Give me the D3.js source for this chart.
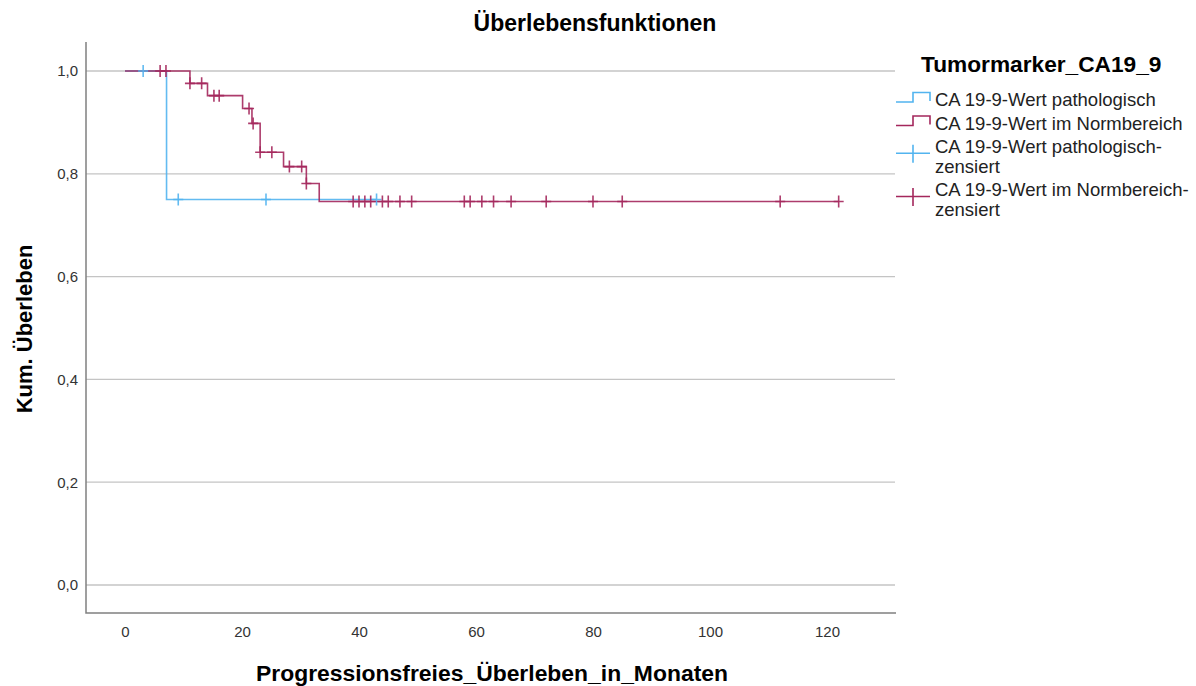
<!DOCTYPE html>
<html>
<head>
<meta charset="utf-8">
<script src="https://cdn.jsdelivr.net/npm/d3@7"></script>
<style>
  body { margin: 0; background: #fff; }
  text { font-family: "Liberation Sans", Arial, sans-serif; }
</style>
</head>
<body>
<svg id="chart" width="1196" height="686"></svg>
<script>
// ---- Texts ----
const chartTitle = "Überlebensfunktionen";
const xTitle = "Progressionsfreies_Überleben_in_Monaten";
const yTitle = "Kum. Überleben";
const legendTitle = "Tumormarker_CA19_9";
const legendLabels = [
  ["CA 19-9-Wert pathologisch"],
  ["CA 19-9-Wert im Normbereich"],
  ["CA 19-9-Wert pathologisch-", "zensiert"],
  ["CA 19-9-Wert im Normbereich-", "zensiert"]
];

// ---- Axis ticks ----
const xTicks = [0, 20, 40, 60, 80, 100, 120];
const yTicks = [0, 0.2, 0.4, 0.6, 0.8, 1.0];

// ---- Kaplan-Meier steps: CA 19-9 pathologisch ----
const pathTimes    = [0, 7.1, 43];
const pathSurvival = [1.0, 0.75, 0.75];
const pathCensored = [3.1, 9.1, 24.1, 43];

// ---- Kaplan-Meier steps: CA 19-9 im Normbereich ----
const normTimes    = [0, 11.1, 14.1, 20.1, 21.7, 23.1, 27.1, 31.0, 33.2, 122];
const normSurvival = [1.0, 0.976, 0.952, 0.927, 0.898, 0.842, 0.814, 0.781, 0.746, 0.746];
const normCensored = [6, 7, 11.1, 13.1, 15.2, 16.1, 21.2, 21.9, 23.1, 25.1, 28.1, 30.2, 31.0,
                      39, 40, 41, 42, 44, 45, 47, 49, 58, 59, 61, 63, 66, 72, 80, 85, 112, 122];

const colPath = "#52b4ef";
const colNorm = "#a4275c";

const svg = d3.select("#chart");

const x = d3.scaleLinear().domain([-6.67, 131.8]).range([86, 896]);
const y = d3.scaleLinear().domain([-0.0545, 1.0564]).range([613, 42]);

const fmt = v => d3.format(".1f")(v).replace(".", ",");

// horizontal grid lines
svg.append("g")
  .selectAll("line")
  .data(yTicks)
  .join("line")
  .attr("x1", x.range()[0]).attr("x2", x.range()[1] - 1)
  .attr("y1", d => y(d)).attr("y2", d => y(d))
  .attr("stroke", "#c4c4c4")
  .attr("stroke-width", 1.3);

// frame (left + bottom axis lines)
svg.append("path")
  .attr("d", `M${x.range()[0]},${y.range()[1]}V${y.range()[0]}H${x.range()[1]}`)
  .attr("fill", "none")
  .attr("stroke", "#808080")
  .attr("stroke-width", 1.5);

// y axis labels
const yAxis = svg.append("g")
  .attr("transform", `translate(${x.range()[0]},0)`)
  .call(d3.axisLeft(y).tickValues(yTicks).tickSize(0).tickPadding(8).tickFormat(fmt));
yAxis.select(".domain").remove();
yAxis.selectAll("text")
  .attr("font-family", "'Liberation Sans', Arial, sans-serif")
  .attr("font-size", 15).attr("fill", "#333");

// x axis labels
const xAxis = svg.append("g")
  .attr("transform", `translate(0,${y.range()[0]})`)
  .call(d3.axisBottom(x).tickValues(xTicks).tickSize(0).tickPadding(13).tickFormat(d3.format("d")));
xAxis.select(".domain").remove();
xAxis.selectAll("text")
  .attr("font-family", "'Liberation Sans', Arial, sans-serif")
  .attr("font-size", 15).attr("fill", "#333");

// step lines
const step = d3.line()
  .x(d => x(d[0]))
  .y(d => y(d[1]))
  .curve(d3.curveStepAfter);

function survivalAt(times, surv, t) {
  const i = d3.bisectRight(times, t) - 1;
  return surv[Math.max(0, i)];
}

function drawGroup(times, surv, color) {
  svg.append("path")
    .datum(d3.zip(times, surv))
    .attr("d", step)
    .attr("fill", "none")
    .attr("stroke", color)
    .attr("stroke-width", 1.6)
    .attr("stroke-opacity", 0.9);
}

function drawCensors(times, surv, cens, color) {
  svg.append("g")
    .selectAll("path")
    .data(cens)
    .join("path")
    .attr("d", t => {
      const cx = x(t), cy = y(survivalAt(times, surv, t));
      return `M${cx - 5},${cy}H${cx + 5}M${cx},${cy - 6}V${cy + 6}`;
    })
    .attr("fill", "none")
    .attr("stroke", color)
    .attr("stroke-width", 1.6)
    .attr("stroke-opacity", 0.9);
}

drawGroup(pathTimes, pathSurvival, colPath);
drawGroup(normTimes, normSurvival, colNorm);
drawCensors(pathTimes, pathSurvival, pathCensored, colPath);
drawCensors(normTimes, normSurvival, normCensored, colNorm);

// titles
svg.append("text")
  .attr("x", 595).attr("y", 31)
  .attr("text-anchor", "middle")
  .attr("font-size", 23).attr("font-weight", "bold")
  .text(chartTitle);

svg.append("text")
  .attr("transform", "translate(32,329) rotate(-90)")
  .attr("text-anchor", "middle")
  .attr("font-size", 22).attr("font-weight", "bold")
  .text(yTitle);

svg.append("text")
  .attr("x", 492).attr("y", 681)
  .attr("text-anchor", "middle")
  .attr("font-size", 22.9).attr("font-weight", "bold")
  .text(xTitle);

// legend
const lg = svg.append("g");
lg.append("text")
  .attr("x", 921).attr("y", 72)
  .attr("font-size", 22.7).attr("font-weight", "bold")
  .text(legendTitle);

const legendColors = [colPath, colNorm, colPath, colNorm];
const legendRows = [100, 123.5, 146.7, 190];
const legendLineGap = 20;

legendLabels.forEach((lines, i) => {
  const cy = legendRows[i];
  const c = legendColors[i];
  if (i < 2) {
    lg.append("path")
      .attr("d", `M896,${cy + 2}H913V${cy - 7.5}H930V${cy + 1}`)
      .attr("fill", "none").attr("stroke", c).attr("stroke-width", 1.6);
  } else {
    lg.append("path")
      .attr("d", `M896,${cy + 6.5}H930M913,${cy - 2}V${cy + 16}`)
      .attr("fill", "none").attr("stroke", c).attr("stroke-width", 1.6);
  }
  lines.forEach((s, j) => {
    lg.append("text")
      .attr("x", 935).attr("y", cy + j * legendLineGap)
      .attr("dy", "0.35em")
      .attr("font-size", 18.5).attr("fill", "#222")
      .text(s);
  });
});
</script>
</body>
</html>
